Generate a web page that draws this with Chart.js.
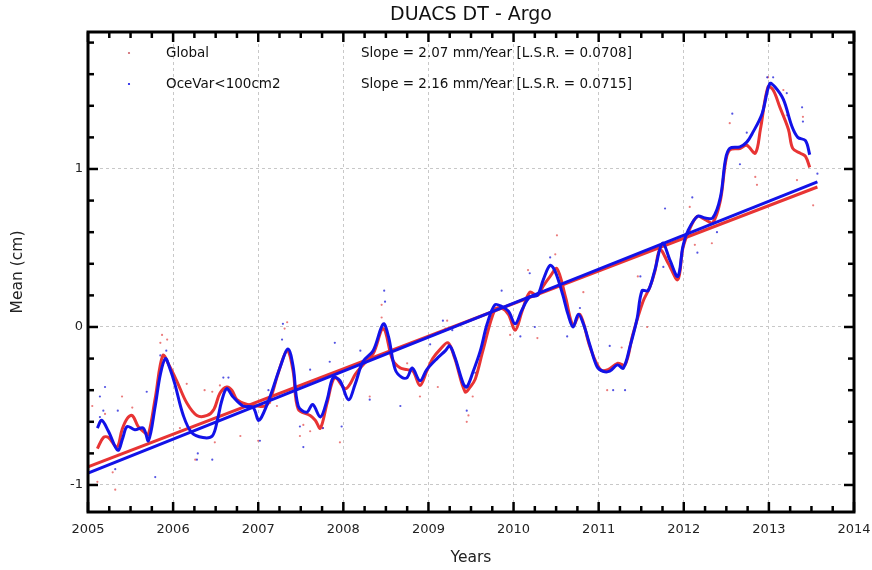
<!DOCTYPE html>
<html><head><meta charset="utf-8">
<script src="https://cdn.jsdelivr.net/npm/chart.js@4/dist/chart.umd.min.js"></script>
<style>html,body{margin:0;padding:0;background:#fff}#wrap{width:872px;height:570px;position:relative}</style>
</head><body><div id="wrap"><canvas id="c" width="872" height="570"></canvas></div>
<script>
const titleText = 'DUACS DT - Argo';
const xTitle = 'Years';
const yTitle = 'Mean (cm)';
const seriesNames = ['Global', 'OceVar<100cm2'];
const slopeLabels = ['Slope = 2.07 mm/Year [L.S.R. = 0.0708]', 'Slope = 2.16 mm/Year [L.S.R. = 0.0715]'];
const xTickYears = [2005,2006,2007,2008,2009,2010,2011,2012,2013,2014];
const yTickValues = [-1,0,1];

// smoothed OceVar<100cm2 (blue)
const blueYears = [2005.11,2005.16,2005.24,2005.35,2005.41,2005.46,2005.55,2005.65,2005.71,2005.79,2005.85,2005.91,2005.96,2006.02,2006.12,2006.22,2006.35,2006.46,2006.52,2006.57,2006.63,2006.70,2006.82,2006.94,2007.00,2007.04,2007.14,2007.26,2007.35,2007.41,2007.47,2007.57,2007.64,2007.73,2007.81,2007.88,2007.96,2008.06,2008.14,2008.23,2008.35,2008.47,2008.53,2008.61,2008.69,2008.75,2008.81,2008.90,2008.98,2009.10,2009.20,2009.25,2009.31,2009.41,2009.45,2009.52,2009.61,2009.69,2009.78,2009.86,2009.94,2010.02,2010.10,2010.19,2010.28,2010.35,2010.43,2010.49,2010.58,2010.64,2010.70,2010.76,2010.82,2010.90,2010.98,2011.05,2011.13,2011.22,2011.29,2011.37,2011.45,2011.51,2011.58,2011.66,2011.75,2011.84,2011.93,2011.99,2012.05,2012.16,2012.25,2012.34,2012.43,2012.49,2012.54,2012.66,2012.74,2012.81,2012.92,2013.01,2013.07,2013.17,2013.27,2013.34,2013.43,2013.48];
const blueMean = [-0.64,-0.59,-0.66,-0.78,-0.70,-0.63,-0.65,-0.64,-0.72,-0.50,-0.30,-0.20,-0.26,-0.36,-0.56,-0.67,-0.70,-0.69,-0.59,-0.47,-0.39,-0.44,-0.50,-0.51,-0.59,-0.57,-0.44,-0.25,-0.14,-0.25,-0.50,-0.54,-0.49,-0.57,-0.46,-0.32,-0.34,-0.46,-0.36,-0.22,-0.15,0.02,-0.06,-0.27,-0.32,-0.32,-0.26,-0.34,-0.27,-0.20,-0.15,-0.12,-0.19,-0.36,-0.38,-0.29,-0.15,0.02,0.14,0.13,0.10,0.02,0.11,0.19,0.20,0.30,0.39,0.35,0.20,0.08,0.00,0.08,0.02,-0.12,-0.25,-0.28,-0.28,-0.24,-0.26,-0.12,0.05,0.23,0.23,0.36,0.53,0.42,0.32,0.51,0.61,0.70,0.69,0.69,0.82,1.06,1.13,1.14,1.17,1.23,1.35,1.54,1.52,1.44,1.27,1.20,1.18,1.09];

// smoothed Global (red)
const redYears = [2005.11,2005.18,2005.24,2005.34,2005.40,2005.46,2005.52,2005.59,2005.67,2005.71,2005.79,2005.88,2005.96,2006.05,2006.16,2006.28,2006.40,2006.48,2006.55,2006.63,2006.69,2006.75,2006.87,2006.99,2007.08,2007.14,2007.23,2007.34,2007.41,2007.47,2007.61,2007.67,2007.73,2007.81,2007.90,2008.02,2008.08,2008.14,2008.23,2008.35,2008.47,2008.58,2008.67,2008.75,2008.82,2008.90,2008.98,2009.05,2009.14,2009.23,2009.31,2009.43,2009.49,2009.55,2009.64,2009.78,2009.86,2009.94,2010.02,2010.10,2010.19,2010.28,2010.35,2010.43,2010.51,2010.61,2010.70,2010.78,2010.90,2011.02,2011.11,2011.22,2011.31,2011.40,2011.52,2011.60,2011.66,2011.72,2011.82,2011.93,2011.99,2012.07,2012.16,2012.25,2012.34,2012.43,2012.49,2012.54,2012.66,2012.74,2012.84,2012.90,2012.99,2013.05,2013.13,2013.23,2013.28,2013.37,2013.43,2013.48];
const redMean = [-0.77,-0.70,-0.70,-0.76,-0.65,-0.58,-0.56,-0.63,-0.67,-0.68,-0.45,-0.18,-0.25,-0.35,-0.48,-0.56,-0.56,-0.52,-0.42,-0.38,-0.40,-0.46,-0.49,-0.50,-0.50,-0.46,-0.30,-0.15,-0.28,-0.52,-0.56,-0.59,-0.64,-0.48,-0.32,-0.39,-0.36,-0.30,-0.24,-0.17,-0.01,-0.21,-0.26,-0.27,-0.28,-0.37,-0.28,-0.20,-0.14,-0.10,-0.20,-0.41,-0.38,-0.33,-0.15,0.11,0.12,0.08,-0.02,0.10,0.22,0.20,0.26,0.32,0.37,0.19,0.01,0.08,-0.13,-0.27,-0.27,-0.23,-0.24,-0.05,0.16,0.25,0.35,0.49,0.40,0.30,0.50,0.62,0.70,0.68,0.66,0.80,1.04,1.12,1.13,1.15,1.10,1.25,1.52,1.50,1.39,1.25,1.13,1.10,1.08,1.01];

// raw samples (dots)
const redDotYears = [2005.05,2005.20,2005.87,2005.93,2005.85,2005.40,2005.52,2005.29,2005.32,2005.11,2006.16,2006.37,2006.46,2006.55,2007.00,2006.79,2006.08,2006.49,2006.26,2007.22,2007.14,2007.31,2007.34,2008.45,2008.45,2009.20,2007.49,2007.61,2007.76,2007.96,2007.53,2008.75,2008.90,2008.31,2009.11,2009.45,2009.47,2010.51,2010.49,2010.17,2010.28,2010.82,2011.10,2011.27,2011.57,2011.46,2009.52,2009.22,2009.96,2012.54,2012.84,2012.86,2012.99,2013.17,2013.21,2013.40,2013.33,2013.52,2012.33,2012.13,2012.07,2011.80];
const redDotValues = [-0.50,-0.55,-0.05,-0.08,-0.10,-0.44,-0.51,-0.92,-1.03,-0.98,-0.36,-0.40,-0.41,-0.37,-0.72,-0.69,-0.64,-0.73,-0.84,-0.50,-0.48,-0.01,0.03,0.14,0.06,-0.01,-0.69,-0.66,-0.64,-0.73,-0.62,-0.23,-0.44,-0.44,-0.38,-0.60,-0.56,0.58,0.46,0.36,-0.07,0.22,-0.40,-0.13,0.00,0.32,-0.44,0.04,-0.05,1.29,0.95,0.90,1.58,1.50,1.34,1.33,0.93,0.77,0.53,0.52,0.76,0.44];
const blueDotYears = [2005.85,2005.92,2005.14,2005.20,2005.18,2005.35,2005.69,2006.28,2006.46,2006.29,2006.59,2006.65,2007.02,2005.79,2005.32,2007.12,2005.14,2007.29,2007.28,2008.49,2008.48,2007.90,2007.84,2007.61,2007.49,2007.53,2007.76,2007.98,2008.67,2008.20,2008.31,2009.02,2009.28,2009.45,2010.43,2010.19,2009.86,2010.25,2010.08,2010.63,2010.78,2011.17,2011.31,2009.17,2011.49,2011.13,2009.55,2011.78,2012.10,2012.57,2012.74,2012.98,2013.05,2013.21,2013.39,2013.40,2013.57,2012.66,2012.39,2012.16,2011.76];
const blueDotValues = [-0.18,-0.15,-0.44,-0.38,-0.53,-0.53,-0.41,-0.84,-0.84,-0.80,-0.32,-0.32,-0.72,-0.95,-0.90,-0.40,-0.57,0.02,-0.08,0.16,0.23,-0.10,-0.22,-0.27,-0.63,-0.76,-0.64,-0.63,-0.50,-0.15,-0.46,-0.11,-0.02,-0.53,0.44,0.34,0.23,0.00,-0.06,-0.06,0.12,-0.40,-0.40,0.04,0.32,-0.12,-0.29,0.75,0.82,1.35,1.23,1.58,1.58,1.48,1.39,1.30,0.97,1.03,0.60,0.47,0.38];

// linear trends
const trendYears = [2005.0, 2013.57];
const redTrend = [-0.886, 0.886];
const blueTrend = [-0.925, 0.918];

const RED = 'rgb(232,52,52)';
const BLUE = 'rgb(18,18,232)';
const pts = (xs, ys) => xs.map((x, i) => ({x, y: ys[i]}));

const frame = {
  id: 'frame',
  afterDraw(chart) {
    const {ctx, chartArea: a, scales: {x, y}} = chart;
    ctx.save();
    ctx.strokeStyle = '#000';
    ctx.lineWidth = 2.5;
    ctx.lineCap = 'butt';
    const tick = (x1, y1, x2, y2) => { ctx.beginPath(); ctx.moveTo(x1, y1); ctx.lineTo(x2, y2); ctx.stroke(); };
    for (let q = 0; q <= 36; q++) {
      const v = 2005 + q * 0.25;
      const px = x.getPixelForValue(v);
      const len = q % 4 === 0 ? 10 : 6;
      tick(px, a.bottom, px, a.bottom - len);
      tick(px, a.top, px, a.top + len);
    }
    for (let k = -6; k <= 9; k++) {
      const v = k * 0.2;
      if (v < y.min || v > y.max) continue;
      const py = y.getPixelForValue(v);
      const len = k % 5 === 0 ? 10 : 6;
      tick(a.left, py, a.left + len, py);
      tick(a.right, py, a.right - len, py);
    }
    ctx.lineWidth = 3;
    ctx.strokeRect(a.left, a.top, a.right - a.left, a.bottom - a.top);
    // title
    ctx.fillStyle = '#111';
    ctx.textBaseline = 'middle';
    ctx.textAlign = 'center';
    ctx.font = '19px "DejaVu Sans"';
    ctx.fillText(titleText, (a.left + a.right) / 2, 15);
    // legend
    ctx.font = '13.5px "DejaVu Sans"';
    ctx.textAlign = 'left';
    const rows = [a.top + 21, a.top + 52];
    const cols = ['rgba(200,80,90,0.9)', BLUE];
    rows.forEach((ry, i) => {
      ctx.fillStyle = cols[i];
      ctx.beginPath(); ctx.arc(a.left + 41, ry, 1.1, 0, Math.PI * 2); ctx.fill();
      ctx.fillStyle = '#111';
      ctx.fillText(seriesNames[i], a.left + 78, ry);
      ctx.fillText(slopeLabels[i], a.left + 273, ry);
    });
    ctx.restore();
  }
};

const font = (size) => ({family: '"DejaVu Sans", sans-serif', size, weight: 'normal'});

new Chart(document.getElementById('c'), {
  type: 'line',
  data: {
    datasets: [
      {type: 'line', data: pts(blueYears, blueMean), borderColor: BLUE, borderWidth: 3, pointRadius: 0, tension: 0.35, fill: false},
      {type: 'line', data: pts(trendYears, blueTrend), borderColor: BLUE, borderWidth: 3, pointRadius: 0, fill: false},
      {type: 'line', data: pts(redYears, redMean), borderColor: RED, borderWidth: 3, pointRadius: 0, tension: 0.35, fill: false},
      {type: 'line', data: pts(trendYears, redTrend), borderColor: RED, borderWidth: 3, pointRadius: 0, fill: false},
      {type: 'scatter', data: pts(blueDotYears, blueDotValues), backgroundColor: 'rgba(40,40,220,0.8)', borderWidth: 0, pointRadius: 1.1},
      {type: 'scatter', data: pts(redDotYears, redDotValues), backgroundColor: 'rgba(230,90,90,0.8)', borderWidth: 0, pointRadius: 1.1}
    ]
  },
  options: {
    responsive: false, animation: false, devicePixelRatio: 1,
    layout: {padding: {left: 0, right: 18, top: 32, bottom: 0}},
    plugins: {
      legend: {display: false}, tooltip: {enabled: false}, title: {display: false}
    },
    scales: {
      x: {
        type: 'linear', min: 2005, max: 2014,
        afterFit: s => { s.height = 58; s.paddingLeft = 0; s.paddingRight = 0; },
        afterBuildTicks: s => { s.ticks = xTickYears.map(v => ({value: v})); },
        ticks: {callback: v => String(v), font: font(13), color: '#222', padding: 10, maxRotation: 0, autoSkip: false},
        grid: {color: '#c8c8c8', lineWidth: 1, drawTicks: false},
        border: {display: false, dash: [3, 3]},
        title: {display: true, text: xTitle, font: font(15.5), color: '#222', padding: {top: 0, bottom: 2.7}}
      },
      y: {
        type: 'linear', min: -1.171, max: 1.867,
        afterFit: s => { s.width = 88; s.paddingTop = 0; s.paddingBottom = 0; },
        afterBuildTicks: s => { s.ticks = yTickValues.map(v => ({value: v})); },
        ticks: {callback: v => String(v), font: font(13), color: '#222', padding: 5},
        grid: {color: '#c8c8c8', lineWidth: 1, drawTicks: false},
        border: {display: false, dash: [3, 3]},
        title: {display: true, text: yTitle, font: font(15.5), color: '#222', padding: {top: 8.7, bottom: 0}}
      }
    }
  },
  plugins: [frame]
});
</script>
</body></html>
